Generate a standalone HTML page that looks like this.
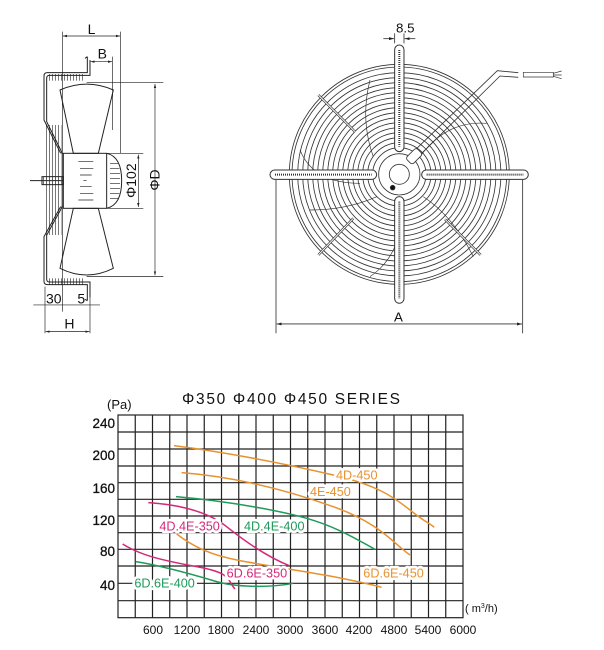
<!DOCTYPE html>
<html><head><meta charset="utf-8"><style>
html,body{margin:0;padding:0;background:#fff;}
svg{display:block;}
text{font-family:"Liberation Sans",Arial,sans-serif;}
</style></head><body>
<svg width="604" height="650" viewBox="0 0 604 650" xmlns="http://www.w3.org/2000/svg">
<defs>
<marker id="ar" viewBox="0 0 10 10" refX="10" refY="5" markerWidth="6" markerHeight="6" orient="auto-start-reverse"><path d="M0,2 L10,5 L0,8 z" fill="#222"/></marker>
<pattern id="vh" width="9" height="9" patternUnits="userSpaceOnUse"><line x1="4" y1="0" x2="4" y2="9" stroke="#333" stroke-width="2"/></pattern>
</defs>

<!-- SIDE VIEW -->
<g transform="translate(30,10) scale(0.3333)" fill="none" stroke="#222" stroke-width="3">
 <rect x="55" y="192" width="105" height="20" fill="url(#vh)" stroke="none"/>
 <rect x="55" y="805" width="105" height="20" fill="url(#vh)" stroke="none"/>
 <rect x="48" y="345" width="46" height="330" fill="url(#vh)" stroke="none"/>
 <path d="M165,145 L172,140 M172,140 L172,188 L52,188 Q42,188 42,198 L42,330 L92,430"/>
 <path d="M180,150 L180,196 L58,196 Q50,196 50,205 L50,335 L98,432"/>
 <path d="M165,868 L172,872 M172,872 L172,824 L52,824 Q42,824 42,814 L42,680 L92,590"/>
 <path d="M180,862 L180,816 L58,816 Q50,816 50,807 L50,676 L98,588"/>
 <path d="M90,240 Q170,205 250,240 L205,430 L130,430 Z"/>
 <path d="M90,775 Q170,815 250,775 L205,595 L130,595 Z"/>
 <rect x="100" y="430" width="130" height="165"/>
 <path d="M230,430 Q275,440 275,512 Q275,585 230,595"/>
 <path d="M145,455 h45 M150,475 h40 M150,495 h35 M160,512 h10 M150,530 h35 M150,550 h40 M145,570 h45" stroke-width="2"/>
 <path d="M240,460 h25 M240,475 h28 M240,490 h30 M240,505 h30 M240,520 h30 M240,535 h30 M240,550 h28 M240,565 h25" stroke-width="2"/>
 <line x1="0" y1="512" x2="100" y2="512"/>
 <rect x="36" y="500" width="64" height="24" fill="url(#vh)"/>
 <line x1="97" y1="65" x2="97" y2="905" stroke-width="2"/>
 <line x1="272" y1="65" x2="272" y2="430" stroke-width="2"/>
 <line x1="99" y1="78" x2="270" y2="78" stroke-width="2" marker-start="url(#ar)" marker-end="url(#ar)"/>
 <line x1="248" y1="140" x2="248" y2="360" stroke-width="2"/>
 <line x1="182" y1="155" x2="246" y2="155" stroke-width="2" marker-start="url(#ar)" marker-end="url(#ar)"/>
 <line x1="170" y1="218" x2="400" y2="218" stroke-width="2"/>
 <line x1="170" y1="800" x2="400" y2="800" stroke-width="2"/>
 <line x1="375" y1="222" x2="375" y2="796" stroke-width="2" marker-start="url(#ar)" marker-end="url(#ar)"/>
 <line x1="230" y1="430" x2="340" y2="430" stroke-width="2"/>
 <line x1="230" y1="595" x2="340" y2="595" stroke-width="2"/>
 <line x1="325" y1="434" x2="325" y2="591" stroke-width="2" marker-start="url(#ar)" marker-end="url(#ar)"/>
 <line x1="45" y1="830" x2="45" y2="970" stroke-width="2"/>
 <line x1="180" y1="850" x2="180" y2="970" stroke-width="2"/>
 <line x1="10" y1="885" x2="210" y2="885" stroke-width="2"/>
 <line x1="47" y1="965" x2="178" y2="965" stroke-width="2" marker-start="url(#ar)" marker-end="url(#ar)"/>
 <g stroke="none" fill="#111" font-size="42">
  <text x="173" y="72">L</text>
  <text x="203" y="145">B</text>
  <text x="48" y="880">30</text>
  <text x="142" y="880">5</text>
  <text x="103" y="955">H</text>
  <text transform="translate(388,510) rotate(-90)" text-anchor="middle">ΦD</text>
  <text transform="translate(318,512) rotate(-90)" text-anchor="middle">Φ102</text>
 </g>
</g>

<!-- FRONT VIEW -->
<g transform="translate(260,10) scale(0.3333)" fill="none" stroke="#333" stroke-width="2.5">
 <g>
  <circle cx="418" cy="493" r="330"/><circle cx="418" cy="493" r="322"/>
  <circle cx="418" cy="493" r="305"/><circle cx="418" cy="493" r="290"/><circle cx="418" cy="493" r="275"/>
  <circle cx="418" cy="493" r="260"/><circle cx="418" cy="493" r="245"/><circle cx="418" cy="493" r="230"/>
  <circle cx="418" cy="493" r="215"/><circle cx="418" cy="493" r="200"/><circle cx="418" cy="493" r="185"/>
  <circle cx="418" cy="493" r="170"/><circle cx="418" cy="493" r="155"/><circle cx="418" cy="493" r="140"/>
  <circle cx="418" cy="493" r="125"/><circle cx="418" cy="493" r="110"/><circle cx="418" cy="493" r="95"/>
  <circle cx="418" cy="493" r="80"/>
 </g>
 <path d="M340,440 Q300,330 330,210 M480,440 Q560,330 680,340 M490,560 Q580,620 640,740 M350,560 Q260,600 150,600 M300,520 Q160,520 120,420 M430,600 Q420,740 330,800" stroke-width="2"/>
 <circle cx="418" cy="493" r="62" fill="#fff"/>
 <circle cx="418" cy="493" r="30"/>
 <circle cx="398" cy="533" r="7" fill="#111"/>
 <g fill="#fff" stroke-width="3">
  <rect x="404" y="105" width="28" height="320" rx="14"/>
  <rect x="404" y="560" width="28" height="320" rx="14"/>
  <rect x="30" y="480" width="320" height="28" rx="14"/>
  <rect x="485" y="480" width="320" height="28" rx="14"/>
 </g>
 <path d="M418,120 V410 M418,575 V865 M45,494 H335 M500,494 H790" stroke-width="6" stroke-dasharray="3,3"/>
 <g stroke-width="7"><line x1="175" y1="255" x2="285" y2="365"/><line x1="175" y1="735" x2="280" y2="625"/><line x1="555" y1="628" x2="662" y2="735"/></g>
 <g><line x1="175" y1="255" x2="285" y2="365" stroke="#fff" stroke-width="3"/><line x1="175" y1="735" x2="280" y2="625" stroke="#fff" stroke-width="3"/><line x1="555" y1="628" x2="662" y2="735" stroke="#fff" stroke-width="3"/></g>
 <path d="M455,430 L712,182 L775,188 M470,445 L720,198 L775,202" stroke-width="2.5"/>
 <rect x="440" y="425" width="45" height="28" rx="8" transform="rotate(-45 462 439)" fill="#fff"/>
 <path d="M790,187 H880 V201 H790 Z M880,190 L905,183 M880,195 L905,195 M880,199 L905,206" stroke-width="2"/>
 <line x1="404" y1="70" x2="404" y2="100"/><line x1="432" y1="70" x2="432" y2="100"/>
 <line x1="370" y1="86" x2="402" y2="86" marker-end="url(#ar)"/>
 <line x1="466" y1="86" x2="434" y2="86" marker-end="url(#ar)"/>
 <line x1="48" y1="510" x2="48" y2="970"/>
 <line x1="788" y1="510" x2="788" y2="970"/>
 <line x1="50" y1="942" x2="786" y2="942" marker-start="url(#ar)" marker-end="url(#ar)"/>
 <g stroke="none" fill="#111" font-size="40">
  <text x="408" y="68">8.5</text>
  <text x="402" y="935">A</text>
 </g>
</g>

<!-- CHART -->
<g fill="#111">
 <text x="182" y="404" font-size="15.5" textLength="218" lengthAdjust="spacing">Φ350  Φ400  Φ450 SERIES</text>
 <text x="107" y="409" font-size="13">(Pa)</text>
</g>
<g stroke="#222" stroke-width="1.2" fill="none">
 <rect x="118" y="415" width="345" height="202.7"/>
 <path d="M118,432 H463 M118,449 H463 M118,466 H463 M118,482.7 H463 M118,499.3 H463 M118,516 H463 M118,532.7 H463 M118,549.3 H463 M118,566 H463 M118,583.3 H463 M118,600.7 H463"/>
 <path d="M135.25,415V617.7 M152.5,415V617.7 M169.75,415V617.7 M187,415V617.7 M204.25,415V617.7 M221.5,415V617.7 M238.75,415V617.7 M256,415V617.7 M273.25,415V617.7 M290.5,415V617.7 M307.75,415V617.7 M325,415V617.7 M342.25,415V617.7 M359.5,415V617.7 M376.75,415V617.7 M394,415V617.7 M411.25,415V617.7 M428.5,415V617.7 M445.75,415V617.7"/>
</g>
<g fill="#111" font-size="13.5" text-anchor="end" stroke="#111" stroke-width="0.3">
 <text x="115" y="428">240</text><text x="115" y="460">200</text><text x="115" y="493">160</text>
 <text x="115" y="525">120</text><text x="115" y="556">80</text><text x="115" y="590">40</text>
</g>
<g fill="#111" font-size="12" text-anchor="middle">
 <text x="153" y="634">600</text><text x="187" y="634">1200</text><text x="221" y="634">1800</text>
 <text x="256" y="634">2400</text><text x="290" y="634">3000</text><text x="325" y="634">3600</text>
 <text x="359" y="634">4200</text><text x="394" y="634">4800</text><text x="428" y="634">5400</text>
 <text x="463" y="634">6000</text>
</g>
<text x="465" y="612" font-size="11" fill="#111">( m<tspan font-size="7" dy="-4">3</tspan><tspan dy="4">/h)</tspan></text>

<g transform="translate(100,390) scale(0.3333)" fill="none" stroke-width="4.5">
 <path d="M222,167 C400,190 570,225 700,255 S880,320 930,360 S990,400 1003,412" stroke="#e8922e"/>
 <path d="M245,248 C400,260 560,300 700,350 S880,460 930,495" stroke="#e8922e"/>
 <path d="M230,432 C280,470 330,495 420,512 S650,550 700,560 S820,585 845,592" stroke="#e8922e"/>
 <path d="M228,320 C400,335 550,365 620,385 S740,430 825,478" stroke="#1f9a5a"/>
 <path d="M108,515 C200,530 300,560 350,575 S500,595 580,580" stroke="#1f9a5a"/>
 <path d="M145,338 C250,345 330,370 380,410 S500,500 568,527" stroke="#d4287a"/>
 <path d="M68,462 C120,495 180,510 290,530 S380,570 405,597" stroke="#d4287a"/>
 <g font-size="38" stroke="#fff" stroke-width="16" paint-order="stroke" stroke-linejoin="round">
  <text x="708" y="268" fill="#e8922e">4D-450</text>
  <text x="630" y="318" fill="#e8922e">4E-450</text>
  <text x="790" y="563" fill="#e8922e">6D.6E-450</text>
  <text x="432" y="422" fill="#1f9a5a">4D.4E-400</text>
  <text x="103" y="592" fill="#1f9a5a">6D.6E-400</text>
  <text x="178" y="422" fill="#d4287a">4D.4E-350</text>
  <text x="380" y="563" fill="#d4287a">6D.6E-350</text>
 </g>
</g>
</svg>
</body></html>
